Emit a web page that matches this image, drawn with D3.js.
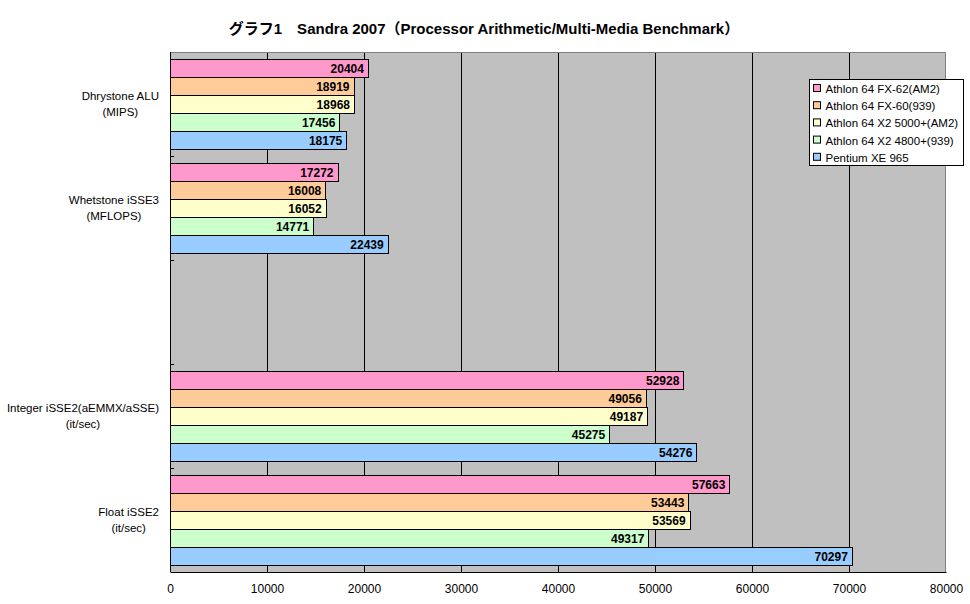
<!DOCTYPE html>
<html>
<head>
<meta charset="utf-8">
<script src="https://cdn.jsdelivr.net/npm/d3@7"></script>
<style>
  body { margin: 0; background: #fff; }
  svg text { font-family: "Liberation Sans", "Noto Sans CJK JP", sans-serif; }
</style>
</head>
<body>
<div id="chart"></div>
<script>
// categories (third one is an empty slot in the original)
var categories = [
       ["Dhrystone ALU", "(MIPS)"],
       ["Whetstone iSSE3", "(MFLOPS)"],
       [],
       ["Integer iSSE2(aEMMX/aSSE)", "(it/sec)"],
       ["Float iSSE2", "(it/sec)"]
];
var seriesNames = ["Athlon 64 FX-62(AM2)", "Athlon 64 FX-60(939)", "Athlon 64 X2 5000+(AM2)",
                   "Athlon 64 X2 4800+(939)", "Pentium XE 965"];
var fx62   = [20404, 17272, null, 52928, 57663];
var fx60   = [18919, 16008, null, 49056, 53443];
var x25000 = [18968, 16052, null, 49187, 53569];
var x24800 = [17456, 14771, null, 45275, 49317];
var pxe965 = [18175, 22439, null, 54276, 70297];
var seriesValues = [fx62, fx60, x25000, x24800, pxe965];
var colours = ["#FF99CC", "#FFCC99", "#FFFFCC", "#CCFFCC", "#99CCFF"];
var xTicks = [0, 10000, 20000, 30000, 40000, 50000, 60000, 70000, 80000];
var title = "グラフ1　Sandra 2007（Processor Arithmetic/Multi-Media Benchmark）";

var W = 970, H = 604;
var margin = { top: 52, right: 24, bottom: 32, left: 170 };
var width = W - margin.left - margin.right;
var height = H - margin.top - margin.bottom;

var svg = d3.select("#chart").append("svg")
       .attr("width", W).attr("height", H);

svg.append("text")
       .attr("x", 484).attr("y", 34)
       .attr("text-anchor", "middle")
       .style("font-size", "15px").style("font-weight", "bold")
       .text(title);

var g = svg.append("g")
       .attr("transform", "translate(" + margin.left + "," + margin.top + ")");

var x = d3.scaleLinear().domain([0, 80000]).range([0, width]);
var y = d3.scaleBand().domain(d3.range(categories.length)).range([0, height]);
var inner = d3.scaleBand().domain(d3.range(seriesValues.length))
       .range([7, y.bandwidth() - 7]);

// plot background
g.append("rect")
       .attr("x", 0).attr("y", 0).attr("width", width).attr("height", height)
       .style("fill", "#C0C0C0");

// gridlines
g.selectAll(".grid")
       .data(xTicks.slice(1, -1))
       .enter().append("line")
       .attr("x1", d => Math.round(x(d)) + 0.5).attr("x2", d => Math.round(x(d)) + 0.5)
       .attr("y1", 0).attr("y2", height)
       .style("stroke", "#000");

// gray top/right border
g.append("path")
       .attr("d", "M0,0.5H" + (width - 0.5) + "V" + height)
       .style("fill", "none").style("stroke", "#808080");

// bars
seriesValues.forEach(function (vals, si) {
       var data = vals.map((v, ci) => ({ v: v, ci: ci })).filter(d => d.v != null);
       g.selectAll(".bar" + si)
              .data(data)
              .enter().append("rect")
              .attr("x", 0.5)
              .attr("y", d => Math.round(y(d.ci) + inner(si)) + 0.5)
              .attr("width", d => Math.round(x(d.v)))
              .attr("height", inner.bandwidth())
              .style("fill", colours[si])
              .style("stroke", "#000");
       g.selectAll(".lab" + si)
              .data(data)
              .enter().append("text")
              .attr("x", d => x(d.v) - 4)
              .attr("y", d => Math.round(y(d.ci) + inner(si)) + inner.bandwidth() / 2 + 5)
              .attr("text-anchor", "end")
              .style("font-size", "12px").style("font-weight", "bold")
              .text(d => d.v);
});

// axes
var xAxis = g.append("g")
       .attr("transform", "translate(0," + height + ")")
       .call(d3.axisBottom(x).tickValues(xTicks).tickSize(0).tickPadding(12).tickFormat(d3.format("d")));
xAxis.select(".domain").style("stroke", "#000");
xAxis.selectAll("text").style("font-size", "12px").style("fill", "#000")
       .style("font-family", "'Liberation Sans', sans-serif");

g.append("line")
       .attr("x1", 0.5).attr("x2", 0.5).attr("y1", 0).attr("y2", height)
       .style("stroke", "#000");
g.selectAll(".ytick")
       .data(d3.range(1, categories.length))
       .enter().append("line")
       .attr("x1", 0).attr("x2", 4)
       .attr("y1", d => Math.round(y(d)) + 0.5).attr("y2", d => Math.round(y(d)) + 0.5)
       .style("stroke", "#000");

// category labels: lines centred on each other, block right-aligned
categories.forEach(function (lines, ci) {
       if (!lines.length) return;
       var t = svg.append("text")
              .attr("text-anchor", "middle")
              .style("font-size", "11.5px");
       lines.forEach(function (l, li) {
              t.append("tspan").attr("x", 0).attr("dy", li ? 16 : 0).text(l);
       });
       var w = d3.max(t.selectAll("tspan").nodes(), n => n.getComputedTextLength());
       var cx = margin.left - 11 - w / 2;
       var cy = margin.top + y(ci) + y.bandwidth() / 2 - 8 + 4;
       t.attr("y", cy);
       t.selectAll("tspan").attr("x", cx);
});

// legend
var lg = svg.append("g").attr("transform", "translate(809.5,79.5)");
lg.append("rect").attr("width", 154).attr("height", 86)
       .style("fill", "#fff").style("stroke", "#000");
seriesNames.forEach(function (n, i) {
       var row = lg.append("g").attr("transform", "translate(0," + (9 + i * 17.2) + ")");
       row.append("rect").attr("x", 4).attr("y", -4).attr("width", 7).attr("height", 7)
              .style("fill", colours[i]).style("stroke", "#000");
       row.append("text").attr("x", 16).attr("y", 4.5)
              .style("font-size", "11.5px").text(n);
});
</script>
</body>
</html>
